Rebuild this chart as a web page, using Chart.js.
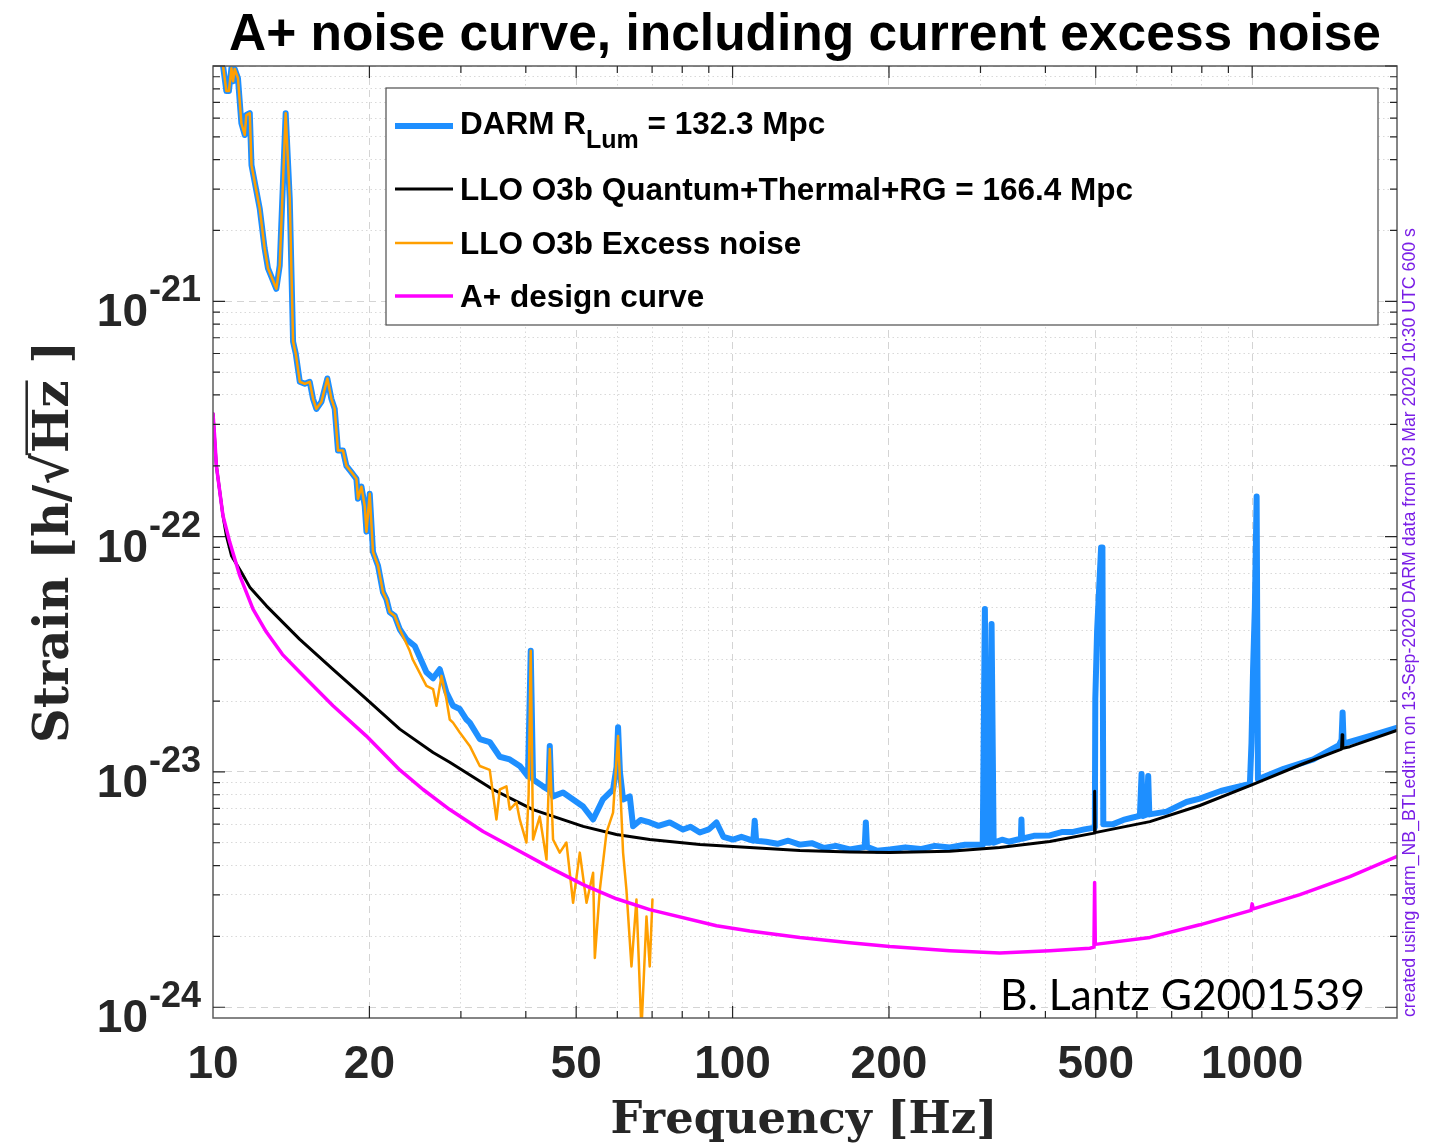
<!DOCTYPE html>
<html>
<head>
<meta charset="utf-8">
<script src="https://cdn.jsdelivr.net/npm/chart.js@4.4.1/dist/chart.umd.min.js"></script>
<style>
  html, body { margin: 0; padding: 0; background: #fff; }
  #wrap { width: 1436px; height: 1145px; }
</style>
</head>
<body>
<div id="wrap"><canvas id="noiseChart" width="1436" height="1145"></canvas></div>
<script>
// axis limits
const xMin = 10, xMax = 1900;
const yMin = 9e-25, yMax = 1e-20;

// tick labels
const xTickValues = [10, 20, 50, 100, 200, 500, 1000];
const yTickExponents = [-24, -23, -22, -21];

// DARM measured spectrum (blue)
const darmFreq = [10.30, 10.45, 10.61, 10.73, 10.85, 10.93, 11.01, 11.17, 11.34, 11.51, 11.59, 11.77, 11.86,
  12.30, 12.57, 12.76, 13.24, 13.44, 13.80, 14.05, 14.26, 14.43, 14.69, 15.02, 15.35, 15.58, 15.81, 16.17,
  16.60, 16.90, 17.15, 17.40, 17.79, 18.06, 18.46, 18.88, 19.01, 19.31, 19.59, 19.74, 20.03, 20.32, 20.78,
  21.24, 21.57, 21.88, 22.38, 22.88, 23.57, 24.45, 25.75, 26.52, 27.32, 28.13, 28.97, 29.85, 30.75, 31.20,
  32.62, 34.09, 35.64, 37.25, 38.94, 40.39, 40.88, 41.30, 43.18, 44.20, 44.48, 44.80, 45.13, 47.17, 49.32,
  51.56, 53.90, 56.27, 58.88, 59.80, 60.20, 60.70, 61.55, 63.40, 64.34, 66.5, 69.27, 72.0, 75.69, 80.31, 83.0,
  86.48, 90.0, 93.11, 96.0, 100.2, 104.0, 107.9, 109.6, 110.3, 111.0, 116.0, 122.0, 128.0, 134.7, 142.0, 150.0,
  158.0, 168.1, 179.6, 180.5, 181.4, 190.0, 200.7, 215.0, 230.0, 245.0, 261.8, 280.0, 303.0,
  305.9, 308.5, 312.5, 315.1, 318.0, 330.0, 340.0, 358.8, 359.7, 360.6, 380.0, 407.9, 430.0, 450.0, 475.0, 498.0, 499.0, 503.0,
  512.0, 515.0, 517.0, 540.0, 565.0, 589.4, 608.0, 612.6, 616.0, 627.0, 630.8, 634.0, 684.2, 747.5, 793.0, 870.0, 990.0,
  997.0, 1004, 1012, 1020, 1026, 1150, 1311, 1470, 1486, 1493, 1500, 1700, 1897];
const darmStrain = [1.15e-20, 1.01e-20, 7.83e-21, 7.83e-21, 9.78e-21, 8.61e-21, 9.72e-21, 8.87e-21, 5.71e-21, 5.09e-21, 6.19e-21, 6.30e-21, 3.79e-21,
  2.48e-21, 1.68e-21, 1.38e-21, 1.13e-21, 1.42e-21, 6.30e-21, 2.74e-21, 6.74e-22, 5.99e-22, 4.55e-22, 4.46e-22, 4.55e-22, 3.85e-22, 3.49e-22, 3.74e-22,
  4.70e-22, 3.85e-22, 3.49e-22, 2.32e-22, 2.32e-22, 2.00e-22, 1.88e-22, 1.76e-22, 1.45e-22, 1.63e-22, 1.35e-22, 1.05e-22, 1.52e-22, 8.60e-23, 7.52e-23,
  5.81e-23, 5.42e-23, 4.78e-23, 4.60e-23, 4.04e-23, 3.66e-23, 3.43e-23, 2.65e-23, 2.50e-23, 2.73e-23, 2.18e-23, 1.91e-23, 1.85e-23, 1.67e-23, 1.62e-23,
  1.38e-23, 1.34e-23, 1.16e-23, 1.13e-23, 1.06e-23, 9.57e-24, 3.27e-23, 9.29e-24, 8.68e-24, 8.40e-24, 1.29e-23, 8.20e-24, 7.87e-24, 8.18e-24, 7.64e-24,
  7.13e-24, 6.28e-24, 7.64e-24, 8.42e-24, 1.05e-23, 1.55e-23, 1.00e-23, 7.64e-24, 7.87e-24, 5.88e-24, 6.25e-24, 6.10e-24, 5.90e-24, 6.10e-24, 5.69e-24, 5.85e-24,
  5.53e-24, 5.70e-24, 6.10e-24, 5.30e-24, 5.16e-24, 5.30e-24, 5.16e-24, 5.10e-24, 6.20e-24, 5.10e-24, 5.05e-24, 4.95e-24, 5.10e-24, 4.91e-24, 4.98e-24, 4.75e-24,
  4.85e-24, 4.68e-24, 4.80e-24, 6.10e-24, 4.80e-24, 4.62e-24, 4.68e-24, 4.78e-24, 4.70e-24, 4.85e-24, 4.77e-24, 4.90e-24, 4.90e-24,
  4.92e-23, 5.00e-24, 5.00e-24, 4.25e-23, 5.00e-24, 5.15e-24, 5.05e-24, 5.20e-24, 6.28e-24, 5.20e-24, 5.35e-24, 5.37e-24, 5.55e-24, 5.55e-24, 5.70e-24, 5.80e-24, 2.04e-23, 3.98e-23,
  9.00e-23, 9.00e-23, 6.00e-24, 6.00e-24, 6.25e-24, 6.40e-24, 6.50e-24, 9.80e-24, 6.50e-24, 6.60e-24, 9.60e-24, 6.60e-24, 6.78e-24, 7.45e-24, 7.70e-24, 8.30e-24, 8.90e-24,
  1.33e-23, 2.73e-23, 5.00e-23, 1.48e-22, 9.30e-24, 1.03e-23, 1.13e-23, 1.30e-23, 1.37e-23, 1.79e-23, 1.32e-23, 1.43e-23, 1.54e-23];

// LLO O3b Quantum+Thermal+RG model (black)
const modelFreq = [10.0, 10.15, 10.45, 10.61, 10.86, 11.34, 11.77, 12.67, 14.69, 17.02, 19.74, 22.88, 26.52, 28.55, 34.59, 41.30, 51.56,
  59.77, 69.27, 86.48, 107.9, 134.7, 168.1, 200.7, 261.8, 326.8, 407.9, 493.6, 496.5, 497.5, 498.5, 635.6, 793.0, 1004,
  1236, 1486, 1490, 1494, 1542, 1897];
const modelStrain = [3.33e-22, 2.00e-22, 1.23e-22, 1.01e-22, 8.27e-23, 7.05e-23, 6.10e-23, 5.08e-23, 3.66e-23, 2.73e-23, 2.04e-23, 1.52e-23, 1.21e-23, 1.10e-23, 8.42e-24, 6.92e-24, 5.87e-24,
  5.42e-24, 5.16e-24, 4.91e-24, 4.77e-24, 4.63e-24, 4.57e-24, 4.54e-24, 4.60e-24, 4.77e-24, 5.06e-24, 5.48e-24, 5.50e-24, 8.28e-24, 5.52e-24, 6.15e-24, 7.20e-24, 8.85e-24,
  1.07e-23, 1.25e-23, 1.44e-23, 1.26e-23, 1.28e-23, 1.50e-23];

// LLO O3b excess noise (orange)
const excessFreq = [10.30, 10.45, 10.61, 10.73, 10.85, 10.93, 11.01, 11.17, 11.34, 11.51, 11.59, 11.77, 11.86,
  12.30, 12.57, 12.76, 13.24, 13.44, 13.80, 14.05, 14.26, 14.43, 14.69, 15.02, 15.35, 15.58, 15.81, 16.17,
  16.60, 16.90, 17.15, 17.40, 17.79, 18.06, 18.46, 18.88, 19.01, 19.31, 19.59, 19.74, 20.03, 20.32, 20.78,
  21.24, 21.57, 21.88, 22.38, 22.88, 23.91, 24.23, 25.75, 26.52, 26.92, 27.53, 28.13, 28.55, 28.97, 29.85,
  31.20, 32.62, 34.09, 35.12, 35.64, 36.71, 37.25, 38.37, 38.94, 40.11, 40.50, 40.88, 41.30, 42.55, 43.84,
  44.48, 45.13, 46.49, 47.89, 49.32, 50.81, 52.35, 53.90, 54.31, 55.53, 57.20, 58.88, 60.20, 61.55, 62.47,
  63.88, 65.31, 66.77, 68.28, 69.27, 70.11];
const excessStrain = [1.15e-20, 1.01e-20, 7.83e-21, 7.83e-21, 9.78e-21, 8.61e-21, 9.72e-21, 8.87e-21, 5.71e-21, 5.09e-21, 6.19e-21, 6.30e-21, 3.79e-21,
  2.48e-21, 1.68e-21, 1.38e-21, 1.13e-21, 1.42e-21, 6.30e-21, 2.74e-21, 6.74e-22, 5.99e-22, 4.55e-22, 4.46e-22, 4.55e-22, 3.85e-22, 3.49e-22, 3.74e-22,
  4.70e-22, 3.85e-22, 3.49e-22, 2.32e-22, 2.32e-22, 2.00e-22, 1.88e-22, 1.76e-22, 1.45e-22, 1.63e-22, 1.35e-22, 1.05e-22, 1.52e-22, 8.60e-23, 7.52e-23,
  5.81e-23, 5.42e-23, 4.78e-23, 4.60e-23, 4.04e-23, 3.27e-23, 3.01e-23, 2.32e-23, 2.25e-23, 1.91e-23, 2.56e-23, 2.04e-23, 1.67e-23, 1.62e-23, 1.47e-23,
  1.29e-23, 1.06e-23, 1.02e-23, 6.28e-24, 8.42e-24, 8.68e-24, 6.92e-24, 7.42e-24, 6.28e-24, 5.01e-24, 8.00e-24, 3.27e-23, 5.16e-24, 6.46e-24, 4.24e-24,
  1.25e-23, 5.16e-24, 4.54e-24, 5.01e-24, 2.78e-24, 4.54e-24, 2.78e-24, 3.73e-24, 1.62e-24, 3.16e-24, 5.53e-24, 6.72e-24, 1.42e-23, 4.54e-24, 3.16e-24,
  1.49e-24, 2.87e-24, 8.0e-25, 2.43e-24, 1.49e-24, 2.87e-24];

// A+ design curve (magenta)
const aplusFreq = [10.0, 10.08, 10.15, 10.45, 10.77, 11.26, 11.94, 12.67, 13.60, 14.69, 15.81, 17.02, 19.74, 22.88, 25.37, 28.55,
  33.10, 38.37, 44.48, 51.56, 59.77, 69.27, 93.11, 107.9, 134.7, 168.1, 200.7, 261.8, 326.8, 407.9, 487.0, 496.0,
  497.5, 499.0, 635.6, 793.0, 995.0, 1000, 1005, 1236, 1542, 1897];
const aplusStrain = [3.33e-22, 2.60e-22, 2.00e-22, 1.23e-22, 9.48e-23, 6.82e-23, 4.92e-23, 3.93e-23, 3.16e-23, 2.65e-23, 2.25e-23, 1.91e-23, 1.42e-23, 1.02e-23, 8.42e-24, 6.92e-24,
  5.58e-24, 4.68e-24, 3.92e-24, 3.32e-24, 2.89e-24, 2.60e-24, 2.22e-24, 2.11e-24, 1.98e-24, 1.88e-24, 1.81e-24, 1.74e-24, 1.70e-24, 1.74e-24, 1.78e-24, 1.80e-24,
  3.39e-24, 1.85e-24, 1.98e-24, 2.24e-24, 2.58e-24, 2.75e-24, 2.62e-24, 3.01e-24, 3.59e-24, 4.37e-24];

const legendItems = [
  { color: "#1e8fff", width: 6 },
  { color: "#000000", width: 3 },
  { color: "#ff9f00", width: 2.5 },
  { color: "#ff00ff", width: 3.5 },
];

function toPoints(xs, ys) {
  return xs.map((x, i) => ({ x: x, y: ys[i] }));
}

// every 1..9 x 10^n inside the range, like matlab minor ticks
function logTicks(min, max, isMajor) {
  const out = [];
  for (let e = Math.floor(Math.log10(min)); e <= Math.ceil(Math.log10(max)); e++) {
    for (let m = 1; m <= 9; m++) {
      const v = m * Math.pow(10, e);
      if (v > min * 1.0001 && v <= max * 1.0001) out.push({ value: v, major: isMajor(v, m) });
    }
  }
  return out;
}

const INK = "#262626";

const matlabLook = {
  id: "matlabLook",
  afterDraw(chart) {
    const ctx = chart.ctx;
    const area = chart.chartArea;
    const xs = chart.scales.x;
    const ys = chart.scales.y;
    ctx.save();

    // box
    ctx.strokeStyle = "#5c5c5c";
    ctx.lineWidth = 1.5;
    ctx.strokeRect(area.left, area.top, area.right - area.left, area.bottom - area.top);

    // inward ticks on all four sides
    ctx.strokeStyle = INK;
    ctx.lineWidth = 1.2;
    ctx.beginPath();
    xs.ticks.forEach((t) => {
      const px = xs.getPixelForValue(t.value);
      const len = t.major ? 12 : 7;
      ctx.moveTo(px, area.bottom);
      ctx.lineTo(px, area.bottom - len);
      ctx.moveTo(px, area.top);
      ctx.lineTo(px, area.top + len);
    });
    ys.ticks.forEach((t) => {
      const py = ys.getPixelForValue(t.value);
      const len = t.major ? 12 : 7;
      ctx.moveTo(area.left, py);
      ctx.lineTo(area.left + len, py);
      ctx.moveTo(area.right, py);
      ctx.lineTo(area.right - len, py);
    });
    ctx.stroke();

    // x tick labels
    ctx.fillStyle = INK;
    ctx.font = 'bold 46px "Liberation Sans", Arial, sans-serif';
    ctx.textAlign = "center";
    ctx.textBaseline = "alphabetic";
    xTickValues.forEach((v) => {
      ctx.fillText(String(v), xs.getPixelForValue(v), 1078);
    });

    // y tick labels 10^n
    yTickExponents.forEach((e) => {
      const py = ys.getPixelForValue(Math.pow(10, e));
      ctx.font = 'bold 36px "Liberation Sans", Arial, sans-serif';
      ctx.textAlign = "right";
      const sup = String(e);
      const supW = ctx.measureText(sup).width;
      ctx.fillText(sup, 201, py);
      ctx.font = 'bold 46px "Liberation Sans", Arial, sans-serif';
      ctx.fillText("10", 201 - supW - 1, py + 25);
    });

    // title
    ctx.fillStyle = "#000";
    ctx.font = 'bold 51.5px "Liberation Sans", Arial, sans-serif';
    ctx.textAlign = "center";
    ctx.fillText("A+ noise curve, including current excess noise", (area.left + area.right) / 2, 50);

    // x axis label
    ctx.fillStyle = INK;
    let size = 50;
    ctx.font = "bold " + size + 'px "DejaVu Serif", serif';
    size = size * 387 / ctx.measureText("Frequency [Hz]").width;
    ctx.font = "bold " + size + 'px "DejaVu Serif", serif';
    ctx.textAlign = "center";
    ctx.fillText("Frequency [Hz]", 804, 1133);

    // y axis label with sqrt(Hz)
    const parts = ["Strain [h/", "\u221A", "Hz", " ]"];
    let ysize = 50;
    ctx.font = "bold " + ysize + 'px "DejaVu Serif", serif';
    let tot = parts.reduce((s, p) => s + ctx.measureText(p).width, 0);
    ysize = ysize * 402 / tot;
    ctx.font = "bold " + ysize + 'px "DejaVu Serif", serif';
    tot = parts.reduce((s, p) => s + ctx.measureText(p).width, 0);
    ctx.save();
    ctx.translate(68, (area.top + area.bottom) / 2);
    ctx.rotate(-Math.PI / 2);
    ctx.textAlign = "left";
    let cx = -tot / 2;
    parts.forEach((p, i) => {
      ctx.fillText(p, cx, 0);
      const w = ctx.measureText(p).width;
      if (i === 2) {
        ctx.lineWidth = 2.5;
        ctx.strokeStyle = INK;
        ctx.beginPath();
        ctx.moveTo(cx - 2, -ysize * 0.86);
        ctx.lineTo(cx + w, -ysize * 0.86);
        ctx.stroke();
      }
      cx += w;
    });
    ctx.restore();

    // legend
    const lx = 386, ly = 88, lw = 992, lh = 237;
    ctx.fillStyle = "#fff";
    ctx.fillRect(lx, ly, lw, lh);
    ctx.strokeStyle = "#4d4d4d";
    ctx.lineWidth = 1.2;
    ctx.strokeRect(lx, ly, lw, lh);
    const rowY = [126, 189, 243, 296];
    legendItems.forEach((it, i) => {
      ctx.strokeStyle = it.color;
      ctx.lineWidth = it.width;
      ctx.beginPath();
      ctx.moveTo(395, rowY[i]);
      ctx.lineTo(453, rowY[i]);
      ctx.stroke();
    });
    ctx.fillStyle = "#000";
    ctx.textAlign = "left";
    const lf = 'bold 31.5px "Liberation Sans", Arial, sans-serif';
    ctx.font = lf;
    ctx.fillText("DARM R", 460, 134);
    let tx = 460 + ctx.measureText("DARM R").width;
    ctx.font = 'bold 25px "Liberation Sans", Arial, sans-serif';
    ctx.fillText("Lum", tx, 148);
    tx += ctx.measureText("Lum").width;
    ctx.font = lf;
    ctx.fillText(" = 132.3 Mpc", tx, 134);
    ctx.fillText("LLO O3b Quantum+Thermal+RG = 166.4 Mpc", 460, 200);
    ctx.fillText("LLO O3b Excess noise", 460, 254);
    ctx.fillText("A+ design curve", 460, 307);

    // author tag
    ctx.fillStyle = "#000";
    let asz = 44;
    ctx.font = asz + 'px Lato, "Open Sans", sans-serif';
    asz = asz * 365 / ctx.measureText("B. Lantz G2001539").width;
    ctx.font = asz + 'px Lato, "Open Sans", sans-serif';
    ctx.textAlign = "right";
    ctx.fillText("B. Lantz G2001539", 1365, 1010);

    // side note
    const note = "created using darm_NB_BTLedit.m on 13-Sep-2020 DARM data from 03 Mar 2020 10:30 UTC 600 s";
    let nsz = 16;
    ctx.font = nsz + 'px "Liberation Sans", Arial, sans-serif';
    nsz = nsz * 789 / ctx.measureText(note).width;
    ctx.font = nsz + 'px "Liberation Sans", Arial, sans-serif';
    ctx.save();
    ctx.translate(1415, 1017);
    ctx.rotate(-Math.PI / 2);
    ctx.textAlign = "left";
    ctx.fillStyle = "#7a1ee6";
    ctx.fillText(note, 0, 0);
    ctx.restore();

    ctx.restore();
  },
};

const common = {
  pointRadius: 0,
  tension: 0,
  fill: false,
  clip: 0,
  borderJoinStyle: "round",
  borderCapStyle: "round",
};

new Chart(document.getElementById("noiseChart"), {
  type: "line",
  data: {
    datasets: [
      Object.assign({ label: "DARM", data: toPoints(darmFreq, darmStrain), borderColor: legendItems[0].color, borderWidth: 6, order: 3 }, common),
      Object.assign({ label: "Quantum+Thermal+RG", data: toPoints(modelFreq, modelStrain), borderColor: legendItems[1].color, borderWidth: 3, order: 2 }, common),
      Object.assign({ label: "Excess noise", data: toPoints(excessFreq, excessStrain), borderColor: legendItems[2].color, borderWidth: 2.5, order: 1 }, common),
      Object.assign({ label: "A+ design curve", data: toPoints(aplusFreq, aplusStrain), borderColor: legendItems[3].color, borderWidth: 3.5, order: 0 }, common),
    ],
  },
  options: {
    responsive: false,
    animation: false,
    devicePixelRatio: 1,
    layout: { padding: { left: 213, top: 66, right: 39, bottom: 127 } },
    plugins: { legend: { display: false }, tooltip: { enabled: false } },
    scales: {
      x: {
        type: "logarithmic",
        min: xMin,
        max: xMax,
        afterBuildTicks: (scale) => {
          scale.ticks = logTicks(xMin, xMax, (v) => xTickValues.includes(v));
        },
        afterFit: (scale) => { scale.height = 0; },
        ticks: { display: false, autoSkip: false },
        grid: {
          drawTicks: false,
          lineWidth: 1,
          color: (c) => (c.tick && c.tick.major ? "#d4d4d4" : "#d9d9d9"),
        },
        border: { display: false, dash: (c) => (c.tick && c.tick.major ? [7, 5] : [1.5, 3]) },
      },
      y: {
        type: "logarithmic",
        min: yMin,
        max: yMax,
        afterBuildTicks: (scale) => {
          scale.ticks = logTicks(yMin, yMax, (v, m) => m === 1);
        },
        afterFit: (scale) => { scale.width = 0; },
        ticks: { display: false, autoSkip: false },
        grid: {
          drawTicks: false,
          lineWidth: 1,
          color: (c) => (c.tick && c.tick.major ? "#d4d4d4" : "#d9d9d9"),
        },
        border: { display: false, dash: (c) => (c.tick && c.tick.major ? [7, 5] : [1.5, 3]) },
      },
    },
  },
  plugins: [matlabLook],
});
</script>
</body>
</html>
